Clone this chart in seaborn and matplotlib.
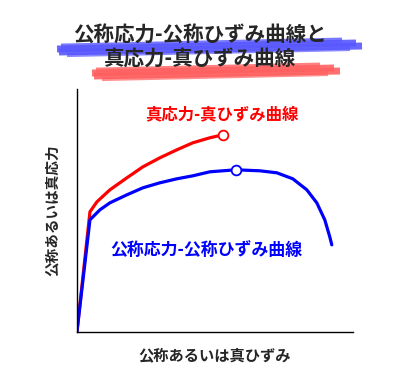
import numpy as np
import pandas as pd
import matplotlib
matplotlib.use("Agg")
import matplotlib.pyplot as plt
import seaborn as sns

# ── Data (strain / stress, arbitrary units) ─────────────────────────────────
nominal_strain = [0, 13, 23, 33, 50, 66, 83, 100, 116, 133, 159, 183, 200, 216, 230, 240, 248, 253, 255]
nominal_stress = [0, 112, 122, 129, 137, 144, 149, 153, 156, 160, 162, 161, 159, 153, 142, 129, 112, 95, 87]
true_strain = [0, 13, 20, 33, 50, 66, 83, 100, 116, 133, 146]
true_stress = [0, 120, 130, 142, 154, 165, 174, 182, 189, 194, 197]

# necking / fracture markers
nominal_mark = (159, 162)
true_mark = (146, 197)

TITLE = "公称応力-公称ひずみ曲線と\n真応力-真ひずみ曲線"
XLABEL = "公称あるいは真ひずみ"
YLABEL = "公称あるいは真応力"
TRUE_LABEL = "真応力-真ひずみ曲線"
NOMINAL_LABEL = "公称応力-公称ひずみ曲線"

BLUE = "#0000ff"
RED = "#ff0000"

sns.set_style("white")
plt.rcParams["font.family"] = ["Noto Sans CJK JP", "DejaVu Sans"]

fig = plt.figure(figsize=(4.05, 3.81), dpi=100)
ax = fig.add_axes([0.190, 0.129, 0.681, 0.638])

nom = pd.DataFrame({"strain": nominal_strain, "stress": nominal_stress})
tru = pd.DataFrame({"strain": true_strain, "stress": true_stress})

sns.lineplot(data=tru, x="strain", y="stress", sort=False, color=RED,
             linewidth=2.3, ax=ax, solid_capstyle="round", solid_joinstyle="round")
sns.lineplot(data=nom, x="strain", y="stress", sort=False, color=BLUE,
             linewidth=2.3, ax=ax, solid_capstyle="round", solid_joinstyle="round")
ax.plot(*true_mark, "o", ms=7, mfc="white", mec=RED, mew=1.3, zorder=5)
ax.plot(*nominal_mark, "o", ms=7, mfc="white", mec=BLUE, mew=1.3, zorder=5)

ax.text(145, 217, TRUE_LABEL, color=RED, fontsize=11.8, fontweight="bold",
        ha="center", va="center")
ax.text(129, 82, NOMINAL_LABEL, color=BLUE, fontsize=12.2, fontweight="bold",
        ha="center", va="center")

ax.set_xlim(0, 276)
ax.set_ylim(0, 243)
ax.set_xticks([]); ax.set_yticks([])
ax.set_xlabel(XLABEL, fontsize=11, fontweight="bold", labelpad=11)
ax.set_ylabel(YLABEL, fontsize=10.5, fontweight="bold", labelpad=12)
sns.despine(ax=ax)
for s in ("left", "bottom"):
    ax.spines[s].set_color("black")
    ax.spines[s].set_linewidth(1.0)

# ── Title with brush-stroke highlights ──────────────────────────────────────
W, H = 405, 381

def brush(x0, x1, y0, y1, color):
    # a few slightly offset strokes, in figure pixel space
    for dx0, dx1, dy, lw, a in [(4, -20, -4, 3.5, 0.8), (0, -6, -1, 5, 0.9),
                                (2, 0, 2, 5, 0.9), (10, -12, 5, 3, 0.7)]:
        fig.add_artist(plt.Line2D([(x0 + dx0) / W, (x1 + dx1) / W],
                                  [1 - (y0 + dy) / H, 1 - (y1 + dy) / H],
                                  color=color, lw=lw, alpha=a,
                                  solid_capstyle="butt", zorder=0))

brush(57, 362, 50, 44, "#5858ff")
brush(92, 340, 74, 69, "#ff6060")

fig.text(0.493, 0.878, TITLE, ha="center", va="center", fontsize=14.8,
         fontweight="bold", linespacing=1.1, zorder=2)

fig.savefig("out.png", dpi=100)
